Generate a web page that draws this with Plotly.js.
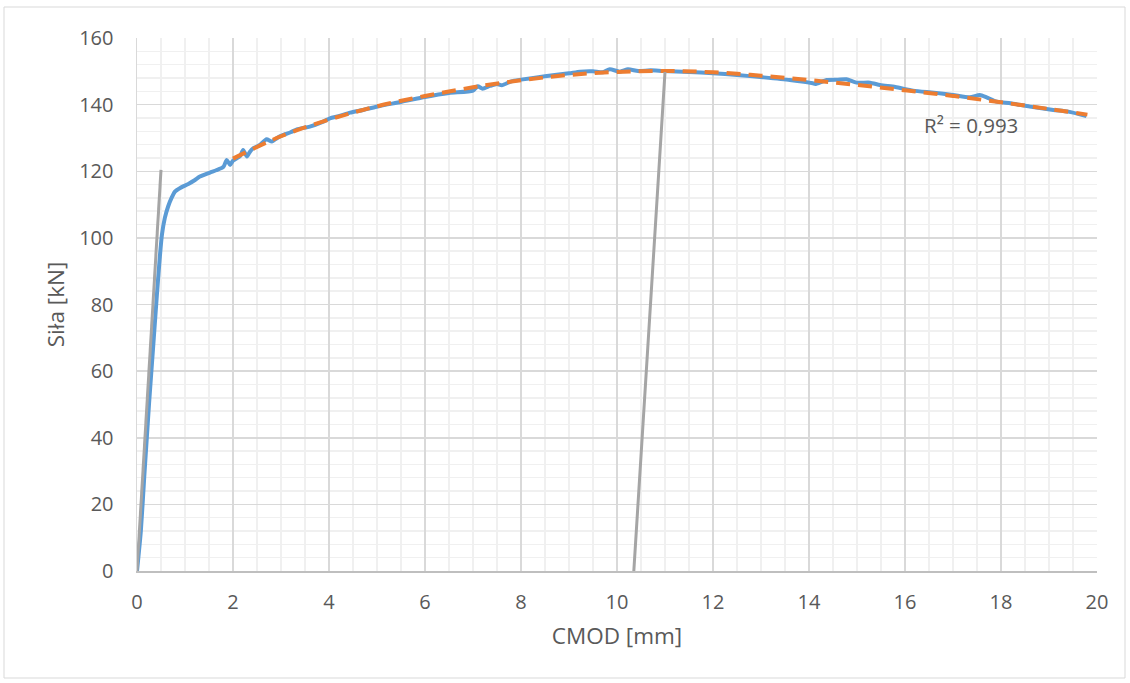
<!DOCTYPE html>
<html>
<head>
<meta charset="utf-8">
<script src="https://cdn.plot.ly/plotly-3.0.1.min.js"></script>
<style>html,body{margin:0;padding:0;background:#fff;}#chart{width:1130px;height:683px;}</style>
</head>
<body>
<div id="chart"></div>
<script>
// Measured curve (CMOD [mm], force [kN])
const measX = [0, 0.08, 0.15, 0.25, 0.35, 0.42, 0.48, 0.52, 0.58, 0.65, 0.72, 0.79, 0.9, 1.07, 1.2, 1.31, 1.52, 1.65, 1.8, 1.87, 1.94, 2.0, 2.08, 2.15, 2.21, 2.29, 2.35, 2.42, 2.55, 2.7, 2.81, 2.92, 3.05, 3.2, 3.33, 3.6, 3.88, 4.02, 4.2, 4.44, 4.71, 5.06, 5.5, 6.0, 6.5, 7.0, 7.1, 7.2, 7.35, 7.5, 7.6, 7.8, 8.0, 8.5, 9.0, 9.23, 9.5, 9.7, 9.85, 10.06, 10.23, 10.44, 10.7, 10.96, 11.5, 12.0, 12.5, 13.04, 13.6, 14.08, 14.13, 14.37, 14.6, 14.78, 14.99, 15.27, 15.48, 15.8, 16.17, 16.6, 17.0, 17.35, 17.56, 17.7, 17.91, 18.2, 18.6, 19.09, 19.4, 19.78];
const measY = [0, 12, 28, 50, 70, 84, 95, 101, 106, 109.5, 112, 113.9, 115, 116.2, 117.3, 118.4, 119.6, 120.3, 121.3, 123.4, 121.9, 123.2, 123.9, 124.6, 126.4, 124.4, 125.8, 126.9, 127.8, 129.6, 128.9, 130.0, 130.9, 131.7, 132.6, 133.4, 134.9, 135.9, 136.5, 137.6, 138.4, 139.6, 140.8, 142.3, 143.5, 144.2, 145.5, 144.8, 145.6, 146.2, 145.8, 147.0, 147.5, 148.5, 149.4, 149.9, 150.0, 149.7, 150.6, 149.9, 150.6, 150.1, 150.3, 150.1, 149.8, 149.4, 148.9, 148.2, 147.4, 146.4, 146.2, 147.4, 147.5, 147.6, 146.6, 146.6, 145.9, 145.3, 144.2, 143.6, 142.9, 142.2, 142.9, 142.2, 140.9, 140.4, 139.4, 138.4, 137.9, 136.6];
// Trend line (polynomial fit)
const trendX = [2.0, 3.0, 4.0, 5.0, 6.0, 7.0, 8.0, 9.0, 10.0, 11.0, 12.0, 13.0, 14.0, 15.0, 16.0, 17.0, 18.0, 19.0, 19.8];
const trendY = [123.8, 130.5, 135.5, 139.5, 142.6, 145.2, 147.3, 148.9, 149.8, 150.1, 149.7, 148.7, 147.4, 145.9, 144.3, 142.6, 140.7, 138.7, 137.0];
// Gray tangent lines
const line1X = [0, 0.5];
const line1Y = [0, 120.4];
const line2X = [10.35, 11.0];
const line2Y = [0, 149.8];
const xTicks = [0, 2, 4, 6, 8, 10, 12, 14, 16, 18, 20];
const yTicks = [0, 20, 40, 60, 80, 100, 120, 140, 160];
const r2Label = 'R² = 0,993';

const font = '"Open Sans", Lato, sans-serif';
const traces = [
  {x: measX, y: measY, mode: 'lines', line: {color: '#5b9bd5', width: 4, shape: 'spline', smoothing: 0.6}, hoverinfo: 'skip'},
  {x: trendX, y: trendY, mode: 'lines', line: {color: '#ed7d31', width: 4, dash: '14px,8px', shape: 'spline'}, hoverinfo: 'skip'},
  {x: line1X, y: line1Y, mode: 'lines', line: {color: '#a5a5a5', width: 3}, hoverinfo: 'skip'},
  {x: line2X, y: line2Y, mode: 'lines', line: {color: '#a5a5a5', width: 3}, hoverinfo: 'skip'}
];
const px = p => (p - 137) / 960, py = p => (571 - p) / 533;
const layout = {
  width: 1130, height: 683,
  margin: {l: 137, r: 33, t: 38, b: 112},
  paper_bgcolor: '#fff', plot_bgcolor: '#fff',
  showlegend: false,
  font: {family: font, size: 20, color: '#595959'},
  xaxis: {
    range: [0, 20], tickvals: xTicks, ticktext: xTicks.map(String),
    showgrid: true, gridcolor: '#d9d9d9', gridwidth: 1.5,
    minor: {dtick: 0.5, showgrid: true, gridcolor: '#f0f0f0', gridwidth: 1.5},
    zeroline: false, showline: true, linecolor: '#bfbfbf', linewidth: 1.5,
    ticks: '', ticklabelstandoff: 12,
    title: {text: 'CMOD [mm]', font: {size: 22.5, color: '#595959'}, standoff: 14}
  },
  yaxis: {
    range: [0, 160], tickvals: yTicks, ticktext: yTicks.map(String),
    showgrid: true, gridcolor: '#d9d9d9', gridwidth: 1.5,
    minor: {dtick: 4, showgrid: true, gridcolor: '#f0f0f0', gridwidth: 1.5},
    zeroline: false, showline: true, linecolor: '#d9d9d9', linewidth: 1.5,
    ticks: '', ticklabelstandoff: 18,
    title: {text: 'Siła [kN]', font: {size: 22.5, color: '#595959'}, standoff: 8}
  },
  annotations: [{x: 16.35, y: 133.9, xanchor: 'left', yanchor: 'middle', text: r2Label, showarrow: false, font: {size: 20.5, color: '#595959'}}],
  shapes: [{type: 'rect', xref: 'paper', yref: 'paper', x0: px(4), x1: px(1125), y0: py(678), y1: py(7), line: {color: '#d9d9d9', width: 1}, layer: 'below'}]
};
Plotly.newPlot('chart', traces, layout, {displayModeBar: false, staticPlot: true});
</script>
</body>
</html>
